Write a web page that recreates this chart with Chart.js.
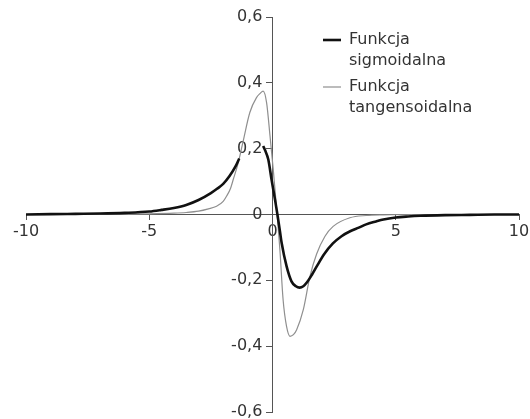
<!DOCTYPE html>
<html>
<head>
<meta charset="utf-8">
<script src="https://cdn.jsdelivr.net/npm/chart.js@4/dist/chart.umd.min.js"></script>
<style>
  html, body { margin: 0; padding: 0; background: #fff; }
  #wrap { width: 530px; height: 419px; position: relative; }
</style>
</head>
<body>
<div id="wrap"><canvas id="c" width="530" height="419"></canvas></div>
<script>
// ---- data ----
const seriesNames = ['Funkcja\nsigmoidalna', 'Funkcja\ntangensoidalna'];

const sigX = [-10, -9, -8, -7, -6, -5, -4.5, -4, -3.5, -3, -2.5, -2.25, -2, -1.75, -1.5, -1.35,
  -0.9,
  -0.38, -0.3, -0.17, -0.04, 0.1, 0.2, 0.3, 0.37, 0.57, 0.77, 0.95, 1.1, 1.25, 1.4, 1.6, 1.8,
  2.1, 2.45, 2.8, 3.15, 3.5, 3.8, 4.2, 4.5, 5, 5.5, 6, 7, 8, 9, 10];
const sigY = [0, 0.001, 0.002, 0.003, 0.005, 0.009, 0.014, 0.02, 0.029, 0.044, 0.065, 0.078, 0.093, 0.116, 0.146, 0.17,
  null,
  0.208, 0.195, 0.167, 0.107, 0.046, 0.0, -0.05, -0.086, -0.157, -0.203, -0.218, -0.222, -0.218, -0.206, -0.183, -0.157,
  -0.12, -0.088, -0.066, -0.051, -0.04, -0.03, -0.021, -0.015, -0.009, -0.006, -0.004, -0.002, -0.001, 0, 0];

const tanX = [-10, -8, -6, -5, -4, -3.5, -3, -2.6, -2.27, -2, -1.86, -1.7, -1.59, -1.39, -1.19, -0.92, -0.65, -0.5, -0.38,
  -0.24, -0.1, 0.03, 0.17, 0.3, 0.43, 0.57, 0.71, 0.85, 0.98, 1.25, 1.52, 1.79, 2.13, 2.46, 3.14, 3.8, 4.5, 6, 8, 10];
const tanY = [0, 0, 0.001, 0.002, 0.004, 0.006, 0.01, 0.017, 0.025, 0.04, 0.056, 0.08, 0.107, 0.157, 0.223, 0.31, 0.355, 0.368, 0.375,
  0.34, 0.238, 0.137, 0.015, -0.107, -0.259, -0.34, -0.37, -0.365, -0.35, -0.289, -0.188, -0.12, -0.066, -0.036, -0.01, -0.003, -0.001, 0, 0, 0];

const xTickStep = 5;
const yTickStep = 0.2;

const toPts = (xs, ys) => xs.map((x, i) => ({ x: x, y: ys[i] }));

const FONT = { family: '"DejaVu Sans", "Liberation Sans", Arial, sans-serif', size: 16 };
const TXT = '#333';
const AX = '#555';

const legendPlugin = {
  id: 'customLegend',
  afterDraw(chart) {
    const ctx = chart.ctx;
    ctx.save();
    ctx.font = FONT.size + 'px ' + FONT.family;
    ctx.fillStyle = TXT;
    ctx.textBaseline = 'middle';
    ctx.textAlign = 'left';
    const startY = [40, 87];
    chart.data.datasets.forEach((ds, i) => {
      const y = startY[i];
      ctx.strokeStyle = ds.borderColor;
      ctx.lineWidth = ds.borderWidth;
      ctx.beginPath();
      ctx.moveTo(323, y);
      ctx.lineTo(341, y);
      ctx.stroke();
      ds.label.split('\n').forEach((line, j) => {
        ctx.fillText(line, 349, y + j * 21);
      });
    });
    ctx.restore();
  }
};

new Chart(document.getElementById('c'), {
  type: 'scatter',
  data: {
    datasets: [
      {
        label: seriesNames[0],
        data: toPts(sigX, sigY),
        showLine: true,
        borderColor: '#111',
        borderWidth: 2.6,
        pointRadius: 0,
        cubicInterpolationMode: 'monotone',
        spanGaps: false
      },
      {
        label: seriesNames[1],
        data: toPts(tanX, tanY),
        showLine: true,
        borderColor: '#8f8f8f',
        borderWidth: 1.2,
        pointRadius: 0,
        cubicInterpolationMode: 'monotone'
      }
    ]
  },
  options: {
    responsive: false,
    animation: false,
    events: [],
    layout: { padding: { left: 26, right: 11, top: 17, bottom: 7 } },
    plugins: { legend: { display: false }, tooltip: { enabled: false } },
    scales: {
      x: {
        type: 'linear',
        min: -10, max: 10,
        position: { y: 0 },
        afterFit(s) { s.height = 0; s.paddingLeft = 0; s.paddingRight = 0; s.paddingTop = 0; s.paddingBottom = 0; },
        grid: { drawOnChartArea: false, drawTicks: true, tickLength: 5, color: AX, lineWidth: 1 },
        border: { color: AX, width: 1 },
        ticks: { stepSize: xTickStep, font: FONT, color: TXT, padding: 3, maxRotation: 0,
          callback: v => String(v) }
      },
      y: {
        type: 'linear',
        min: -0.6, max: 0.6,
        position: { x: 0 },
        afterFit(s) { s.width = 0; s.paddingLeft = 0; s.paddingRight = 0; s.paddingTop = 0; s.paddingBottom = 0; },
        grid: { drawOnChartArea: false, drawTicks: true, tickLength: 6, color: AX, lineWidth: 1 },
        border: { color: AX, width: 1 },
        ticks: { stepSize: yTickStep, font: FONT, color: TXT, padding: 4,
          callback: v => (Math.abs(v) < 1e-9 ? '0' : v.toFixed(1).replace('.', ',')) + '\u00a0\u00a0' }
      }
    }
  },
  plugins: [legendPlugin]
});
</script>
</body>
</html>
